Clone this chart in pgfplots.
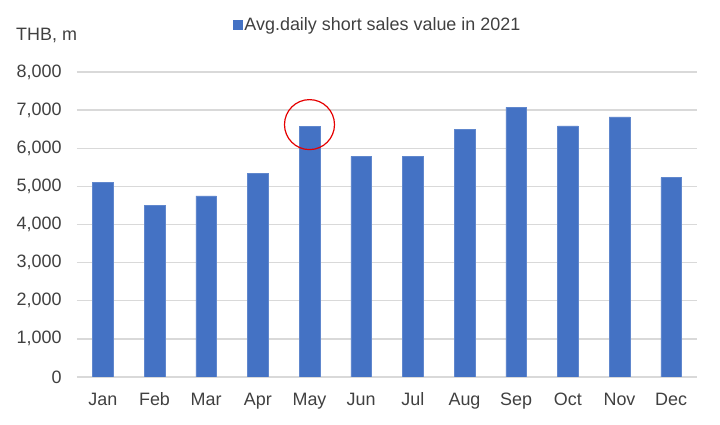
\documentclass[border=0pt]{standalone}
\usepackage{pgfplots}
\pgfplotsset{compat=1.18}
\usepackage{fontspec}
\setmainfont{Liberation Sans}
\definecolor{barblue}{HTML}{4472C4}
\definecolor{txt}{HTML}{404040}
\definecolor{gridc}{HTML}{D9D9D9}
\begin{document}
\begin{tikzpicture}
\path[use as bounding box] (-77bp,-48bp) rectangle (643bp,377bp);
\begin{axis}[
  at={(0,0)}, anchor=south west,
  scale only axis, width=620bp, height=305bp,
  xmin=-0.5, xmax=11.5, ymin=0, ymax=8000,
  ytick={0,1000,...,8000},
  xtick={0,...,11},
  xticklabels={Jan,Feb,Mar,Apr,May,Jun,Jul,Aug,Sep,Oct,Nov,Dec},
  ymajorgrids, grid style={gridc, line width=1.3bp},
  axis line style={draw=none},
  major tick length=0pt,
  /pgf/number format/assume math mode=true,
  /pgf/number format/1000 sep={,},
  scaled y ticks=false,
  tick label style={font=\fontsize{18}{20}\selectfont, text=txt},
  yticklabel style={anchor=east, xshift=-12bp},
  xticklabel style={anchor=base, yshift=-28bp},
  ybar, bar width=20.6bp,
  legend style={at={(0.485,1.154)}, anchor=center, draw=none, fill=none,
    font=\fontsize{18}{20}\selectfont, text=txt, inner sep=0pt},
  legend image code/.code={\fill[barblue] (-1bp,-4.5bp) rectangle (8bp,4.5bp);},
]
\addplot[fill=barblue, draw=barblue!85!white] coordinates {
(0,5110) (1,4510) (2,4750) (3,5340) (4,6580) (5,5790)
(6,5790) (7,6500) (8,7070) (9,6590) (10,6820) (11,5230)};
\addlegendentry{Avg.daily short sales value in 2021}
\draw[red!90!black, line width=1.2bp] (axis cs:4,6620) ellipse (25bp and 25bp);
\end{axis}
\node[anchor=west, inner sep=0pt, text=txt, font=\fontsize{18}{20}\selectfont] at (-61bp,342bp) {THB, m};
\end{tikzpicture}
\end{document}
